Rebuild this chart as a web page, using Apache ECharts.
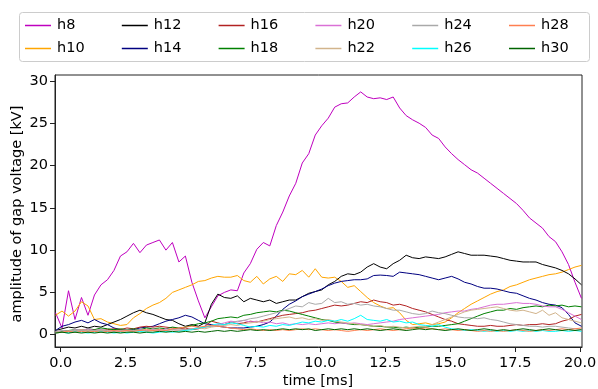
<!DOCTYPE html>
<html>
<head>
<meta charset="utf-8">
<script src="https://cdn.jsdelivr.net/npm/echarts@6/dist/echarts.min.js"></script>
<style>
html,body{margin:0;padding:0;background:#fff;}
#chart{width:598px;height:389px;}
</style>
</head>
<body>
<div id="chart"></div>
<script>
// time axis [ms]
const time = [-0.2,0.05,0.3,0.55,0.8,1.05,1.3,1.55,1.8,2.05, 2.3,2.55,2.8,3.05,3.3,3.55,3.8,4.05,4.3,4.55, 4.8,5.05,5.3,5.55,5.8,6.05,6.3,6.55,6.8,7.05, 7.3,7.55,7.8,8.05,8.3,8.55,8.8,9.05,9.3,9.55, 9.8,10.05,10.3,10.55,10.8,11.05,11.3,11.55,11.8,12.05, 12.3,12.55,12.8,13.05,13.3,13.55,13.8,14.05,14.3,14.55, 14.8,15.05,15.3,15.55,15.8,16.05,16.3,16.55,16.8,17.05, 17.3,17.55,17.8,18.05,18.3,18.55,18.8,19.05,19.3,19.55, 19.8,20.05];

const h8 = [2.6,0.8,5.2,1.8,4.4,2.3,4.7,5.9,6.5,7.6, 9.3,9.8,10.8,9.7,10.6,10.9,11.2,10.0,10.9,8.6, 9.3,6.2,4.0,2.0,3.3,4.6,5.0,5.3,5.2,7.3, 8.4,10.1,10.9,10.5,12.9,14.5,16.4,17.9,20.3,21.4, 23.6,24.7,25.6,26.9,27.3,27.4,28.1,28.7,28.1,27.9, 28.0,27.8,28.1,26.8,25.9,25.4,25.0,24.5,23.6,23.2, 22.2,21.4,20.7,20.1,19.5,19.1,18.5,17.9,17.3,16.7, 16.1,15.5,14.7,13.8,13.2,12.6,11.6,11.0,9.8,8.3, 6.2,4.3];
const h10 = [2.3,2.8,2.2,2.8,3.9,3.4,1.8,1.9,1.5,1.3, 1.1,1.2,2.0,2.5,3.1,3.5,3.8,4.3,5.0,5.3, 5.6,5.9,6.3,6.4,6.7,6.9,6.8,6.8,7.0,6.4, 6.2,6.9,6.0,6.6,6.9,6.3,7.2,7.1,7.6,6.8, 7.8,6.8,6.7,6.8,6.3,5.6,5.8,5.1,4.4,3.8, 3.4,3.1,3.2,2.6,1.7,1.2,1.3,1.4,1.2,1.3, 1.5,2.0,2.6,3.1,3.6,4.0,4.4,4.8,5.1,5.3, 5.7,5.9,6.2,6.5,6.7,6.9,7.1,7.2,7.4,7.7, 8.0,8.2];
const h12 = [0.5,0.7,0.9,0.8,1.0,0.8,1.0,0.9,1.2,1.5, 1.8,2.2,2.6,2.9,2.6,2.4,2.1,1.8,1.7,1.3, 1.0,1.2,1.0,1.4,3.6,4.8,4.4,4.3,4.6,3.9, 4.3,4.1,3.9,4.1,3.7,3.9,4.1,4.1,4.5,4.9, 5.1,5.3,5.9,6.3,6.9,7.2,7.1,7.4,8.0,8.4, 8.0,7.8,8.4,8.8,9.4,9.1,9.0,9.2,9.1,9.0, 9.2,9.5,9.8,9.6,9.4,9.4,9.4,9.3,9.2,9.0, 8.8,8.7,8.6,8.6,8.6,8.3,8.1,7.9,7.6,7.2, 6.6,5.9];
const h14 = [0.5,1.0,1.2,1.5,1.7,1.4,1.8,1.4,1.2,0.8, 0.6,0.6,0.6,0.8,0.9,1.0,1.3,1.6,1.8,2.0, 2.3,2.1,1.7,1.3,1.2,1.0,0.9,0.8,0.8,0.8, 0.9,1.0,1.2,1.5,2.2,3.0,3.6,4.0,4.5,4.8, 5.1,5.4,5.8,6.1,6.3,6.4,6.5,6.5,6.6,7.0, 7.05,7.0,6.9,7.4,7.3,7.2,7.1,6.9,6.7,6.5, 6.7,6.9,6.6,6.2,6.0,5.7,5.5,5.5,5.4,5.2, 5.0,4.9,4.6,4.3,4.1,3.8,3.6,3.5,3.2,2.4, 1.4,1.0];
const h16 = [0.3,0.4,0.5,0.4,0.6,0.5,0.6,0.5,0.6,0.7, 0.6,0.8,0.7,0.9,1.0,0.9,1.0,0.9,0.8,0.7, 0.8,0.6,0.7,1.0,1.6,1.4,1.2,1.5,1.3,1.4, 1.6,1.5,1.7,1.9,2.1,2.3,2.4,2.5,2.6,2.8, 2.9,3.1,3.3,3.5,3.4,3.5,3.7,3.9,3.8,4.1, 3.9,3.8,3.5,3.6,3.4,3.1,2.9,2.7,2.4,2.1, 1.8,1.6,1.3,1.2,1.1,1.0,1.0,1.1,1.0,1.0, 1.1,1.2,1.1,1.2,1.2,1.3,1.2,1.3,1.6,1.8, 2.2,2.4];
const h18 = [0.3,0.4,0.5,0.6,0.5,0.7,0.6,0.8,0.7,0.6, 0.7,0.6,0.7,0.6,0.8,0.7,0.8,0.7,0.9,0.8, 0.9,1.1,1.3,1.4,1.6,1.9,2.0,2.1,2.0,2.3, 2.4,2.6,2.7,2.8,2.7,2.9,2.8,2.6,2.4,2.2, 2.0,1.8,1.7,1.5,1.4,1.3,1.2,1.2,1.1,1.0, 1.0,0.9,0.9,0.8,0.9,0.8,0.9,0.9,1.0,1.0, 1.1,1.2,1.3,1.6,1.9,2.2,2.5,2.7,2.9,2.9, 3.1,3.0,3.2,3.3,3.4,3.3,3.5,3.4,3.5,3.3, 3.4,3.3];
const h20 = [0.3,0.5,0.4,0.6,0.5,0.7,0.5,0.6,0.4,0.5, 0.4,0.5,0.4,0.6,0.5,0.6,0.5,0.7,0.6,0.5, 0.6,0.7,0.8,0.9,1.0,1.2,1.4,1.6,1.5,1.7, 1.5,1.6,1.4,1.5,1.3,1.4,1.2,1.3,1.2,1.3, 1.2,1.3,1.4,1.3,1.4,1.3,1.4,1.3,1.2,1.3, 1.4,1.5,1.6,1.8,1.9,2.0,2.1,2.2,2.3,2.4, 2.6,2.7,2.8,2.8,3.0,3.1,3.3,3.5,3.6,3.6, 3.7,3.8,3.7,3.7,3.6,3.4,3.3,3.3,3.0,2.6, 2.2,1.8];
const h22 = [0.4,0.3,0.5,0.4,0.6,0.5,0.4,0.5,0.4,0.3, 0.4,0.3,0.4,0.5,0.4,0.5,0.4,0.5,0.6,0.5, 0.6,0.7,0.8,0.7,0.9,1.0,1.1,1.2,1.1,1.3, 1.4,1.5,1.6,1.8,1.9,2.0,2.1,1.9,2.0,1.8, 1.9,1.7,1.8,1.6,1.5,1.4,1.3,1.2,1.1,1.0, 1.1,0.9,1.0,0.9,0.8,0.9,1.0,1.0,1.2,1.5, 1.8,2.1,2.4,2.7,2.9,3.0,3.1,3.2,3.3,3.1, 2.9,2.8,2.9,2.7,2.5,2.9,2.3,2.6,2.0,1.8, 1.6,1.4];
const h24 = [0.4,0.5,0.4,0.6,0.5,0.4,0.5,0.6,0.5,0.4, 0.5,0.6,0.5,0.6,0.5,0.7,0.6,0.5,0.6,0.7, 0.6,0.7,0.8,0.9,1.0,1.1,1.2,1.4,1.6,1.7, 1.9,2.0,2.2,2.4,2.6,2.8,3.1,3.4,3.3,3.8, 3.6,3.7,4.3,3.8,3.9,3.6,3.7,3.5,3.6,3.4, 3.3,3.1,2.9,2.9,2.7,2.5,2.4,2.5,2.8,2.6, 2.5,2.3,2.1,2.0,2.0,1.9,2.0,1.8,1.7,1.5, 1.3,1.2,1.1,1.0,1.0,0.9,1.0,1.0,0.9,0.8, 0.7,0.6];
const h26 = [0.2,0.3,0.2,0.4,0.3,0.2,0.3,0.4,0.3,0.2, 0.3,0.2,0.3,0.4,0.3,0.2,0.3,0.4,0.3,0.4, 0.5,0.6,0.8,0.9,1.1,1.3,1.2,1.4,1.3,1.1, 0.9,1.0,0.9,1.1,1.0,1.2,1.1,1.3,1.5,1.4, 1.6,1.5,1.7,1.6,1.8,1.6,1.9,2.3,1.8,1.7, 1.6,1.8,1.5,1.6,1.4,1.5,1.2,1.1,1.0,1.2, 0.9,0.7,0.6,0.5,0.6,0.5,0.4,0.5,0.4,0.5, 0.4,0.5,0.4,0.5,0.4,0.5,0.4,0.4,0.5,0.4, 0.5,0.4];
const h28 = [0.2,0.3,0.4,0.3,0.4,0.3,0.4,0.3,0.4,0.5, 0.4,0.5,0.4,0.5,0.6,0.5,0.6,0.5,0.7,0.8, 0.9,1.0,0.9,1.0,1.1,1.0,0.9,0.8,0.7,0.6, 0.7,0.6,0.5,0.6,0.5,0.6,0.5,0.6,0.7,0.6, 0.7,0.6,0.5,0.6,0.5,0.4,0.5,0.6,0.5,0.6, 0.7,0.6,0.5,0.6,0.7,0.8,0.7,0.8,0.7,0.6, 0.7,0.6,0.5,0.6,0.5,0.4,0.5,0.4,0.5,0.4, 0.5,0.6,0.5,0.4,0.5,0.6,0.5,0.6,0.7,0.6, 0.7,0.8];
const h30 = [0.2,0.3,0.2,0.3,0.2,0.3,0.2,0.3,0.2,0.3, 0.2,0.3,0.3,0.2,0.3,0.3,0.4,0.3,0.4,0.3, 0.4,0.3,0.4,0.3,0.4,0.5,0.4,0.5,0.4,0.5, 0.6,0.5,0.6,0.5,0.6,0.7,0.6,0.7,0.6,0.7, 0.5,0.6,0.7,0.6,0.7,0.6,0.7,0.6,0.7,0.6, 0.5,0.6,0.7,0.6,0.5,0.6,0.7,0.6,0.7,0.6, 0.5,0.6,0.7,0.6,0.5,0.6,0.7,0.6,0.5,0.6, 0.5,0.6,0.7,0.6,0.5,0.6,0.7,0.6,0.5,0.6, 0.5,0.6];

const seriesNames = ['h8','h10','h12','h14','h16','h18','h20','h22','h24','h26','h28','h30'];
const seriesValues = [h8,h10,h12,h14,h16,h18,h20,h22,h24,h26,h28,h30];
const xTicks = [0,2.5,5,7.5,10,12.5,15,17.5,20];
const yTicks = [0,5,10,15,20,25,30];
const xTitle = 'time [ms]';
const yTitle = 'amplitude of gap voltage [kV]';

// styles
const colors = ['#bf00bf','#ffa500','#000000','#000080','#b22222','#008000','#da70d6','#d2b48c','#a9a9a9','#00ffff','#ff7f50','#006400'];
const FONT = 'DejaVu Sans';
const FS = 14.5;

const chart = echarts.init(document.getElementById('chart'), null, {renderer:'canvas'});

const series = seriesNames.map((n, i) => ({
  name: n,
  type: 'line',
  data: time.map((t, k) => [t, seriesValues[i][k]]),
  symbol: 'none',
  showSymbol: false,
  lineStyle: {width: 1, color: colors[i]},
  itemStyle: {color: colors[i]},
  animation: false,
  silent: true
}));

// legend: matplotlib ncol=6, column-major order
const legends = seriesNames.map((n, i) => {
  const col = Math.floor(i / 2), row = i % 2;
  return {
    data: [n],
    left: 25 + col * 96.8,
    top: row === 0 ? 18 : 41,
    padding: 0,
    icon: 'rect',
    itemWidth: 26,
    itemHeight: 1.5,
    itemGap: 0,
    selectedMode: false,
    textStyle: {fontFamily: FONT, fontSize: FS, color: '#000', padding: [0,0,0,1]}
  };
});

chart.setOption({
  backgroundColor: '#fff',
  animation: false,
  textStyle: {fontFamily: FONT},
  grid: {left: 55, right: 16, top: 75, bottom: 42, show: true, borderColor: '#222', borderWidth: 1, containLabel: false, outerBoundsMode: 'none'},
  legend: legends,
  graphic: [{
    type: 'rect', z: -1,
    shape: {x: 19.5, y: 12.5, width: 570, height: 49, r: 3},
    style: {fill: '#fff', stroke: '#cccccc', lineWidth: 1}
  }, {
    type: 'text',
    x: 17, y: 214, rotation: Math.PI / 2,
    style: {text: yTitle, fontFamily: FONT, fontSize: FS, fill: '#000', align: 'center', verticalAlign: 'middle'}
  }, {
    type: 'text',
    x: 318, y: 381,
    style: {text: xTitle, fontFamily: FONT, fontSize: FS, fill: '#000', align: 'center', verticalAlign: 'middle'}
  }],
  xAxis: {
    type: 'value', min: -0.22, max: 20.07,
    axisLine: {show: true, onZero: false, lineStyle: {color: '#222', width: 1}},
    axisTick: {show: true, length: 5, customValues: xTicks, lineStyle: {color: '#222', width: 1}},
    axisLabel: {customValues: xTicks, formatter: v => v.toFixed(1), margin: 9, color: '#000', fontFamily: FONT, fontSize: FS},
    splitLine: {show: false}
  },
  yAxis: {
    type: 'value', min: -1.45, max: 30.7,
    axisLine: {show: true, onZero: false, lineStyle: {color: '#222', width: 1}},
    axisTick: {show: true, length: 5, customValues: yTicks, lineStyle: {color: '#222', width: 1}},
    axisLabel: {customValues: yTicks, formatter: v => String(v), margin: 7, color: '#000', fontFamily: FONT, fontSize: FS},
    splitLine: {show: false}
  },
  series: series
});
</script>
</body>
</html>
